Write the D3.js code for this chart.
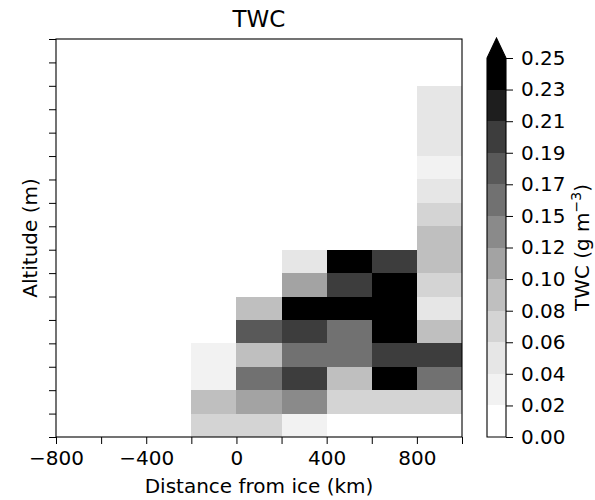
<!DOCTYPE html>
<html lang="en">
<head>
    <meta charset="UTF-8">
    <title>TWC</title>
    <script src="https://d3js.org/d3.v7.min.js"></script>
    <style>
        body { margin: 0; background: #fff; }
        text { font-family: "DejaVu Sans", sans-serif; fill: #000; }
    </style>
</head>
<body>
    <svg></svg>
    <script>
        const svgWidth = 595;
        const svgHeight = 500;

        // left edge of each 200 km distance bin
        const distBins = [-200, 0, 200, 400, 600, 800];
        // TWC per altitude bin (bottom row first), one array per distance bin
        const twcAtM200 = [0.07, 0.09, 0.03, 0.03];
        const twcAt0 = [0.07, 0.11, 0.155, 0.09, 0.18, 0.09];
        const twcAt200 = [0.03, 0.135, 0.20, 0.155, 0.20, 0.28, 0.11, 0.05];
        const twcAt400 = [0.01, 0.07, 0.09, 0.155, 0.155, 0.26, 0.20, 0.26];
        const twcAt600 = [0.01, 0.07, 0.26, 0.20, 0.27, 0.29, 0.27, 0.20];
        const twcAt800 = [0.01, 0.07, 0.155, 0.20, 0.09, 0.05, 0.07, 0.09, 0.09, 0.07, 0.05, 0.03, 0.05, 0.05, 0.05];
        const nAltRows = 17;

        const xTicks = [-800, -600, -400, -200, 0, 200, 400, 600, 800, 1000];
        const xTickLabels = ["\u2212800", "", "\u2212400", "", "0", "", "400", "", "800", ""];

        const levels = [0, 0.0208, 0.0417, 0.0625, 0.0833, 0.1042, 0.125, 0.1458, 0.1667, 0.1875, 0.2083, 0.2292, 0.25];
        const levelLabels = ["0.00", "0.02", "0.04", "0.06", "0.08", "0.10", "0.12", "0.15", "0.17", "0.19", "0.21", "0.23", "0.25"];
        const greys = ["#ffffff", "#f2f2f2", "#e6e6e6", "#d4d4d4", "#bfbfbf", "#a3a3a3", "#8a8a8a",
                       "#717171", "#595959", "#3d3d3d", "#1e1e1e", "#000000", "#000000"];

        const columns = [twcAtM200, twcAt0, twcAt200, twcAt400, twcAt600, twcAt800];
        const cells = [];
        columns.forEach((col, i) => {
            col.forEach((v, j) => cells.push({x0: distBins[i], row: j, value: v}));
        });

        const margin = {left: 56, right: 133, top: 39, bottom: 63};
        const plotW = svgWidth - margin.left - margin.right;
        const plotH = svgHeight - margin.top - margin.bottom;

        const svg = d3.select("svg")
            .attr("width", svgWidth)
            .attr("height", svgHeight);

        const x = d3.scaleLinear().domain([-800, 1000]).range([margin.left, margin.left + plotW]);
        const y = d3.scaleLinear().domain([0, nAltRows]).range([margin.top + plotH, margin.top]);
        const color = d3.scaleThreshold().domain(levels.slice(1)).range(greys);

        svg.append("g")
            .selectAll("rect")
            .data(cells)
            .enter()
            .append("rect")
            .attr("x", d => x(d.x0))
            .attr("y", d => y(d.row + 1))
            .attr("width", d => x(d.x0 + 200) - x(d.x0))
            .attr("height", d => y(d.row) - y(d.row + 1))
            .attr("fill", d => color(d.value))
            .attr("shape-rendering", "crispEdges");

        // frame
        svg.append("rect")
            .attr("x", margin.left)
            .attr("y", margin.top)
            .attr("width", plotW)
            .attr("height", plotH)
            .attr("fill", "none")
            .attr("stroke", "#000")
            .attr("stroke-width", 1.1);

        const xAxis = svg.append("g")
            .attr("transform", `translate(0,${margin.top + plotH})`)
            .call(d3.axisBottom(x).tickValues(xTicks).tickSize(7).tickPadding(7)
                .tickFormat((d, i) => xTickLabels[i]));
        xAxis.select(".domain").remove();
        xAxis.selectAll("text").style("font-size", "20px");

        const yAxis = svg.append("g")
            .attr("transform", `translate(${margin.left},0)`)
            .call(d3.axisLeft(y).tickValues(d3.range(nAltRows + 1)).tickSize(7).tickFormat(""));
        yAxis.select(".domain").remove();

        svg.append("text")
            .attr("x", margin.left + plotW / 2)
            .attr("y", 27)
            .attr("text-anchor", "middle")
            .style("font-size", "23px")
            .text("TWC");

        svg.append("text")
            .attr("x", margin.left + plotW / 2)
            .attr("y", 493)
            .attr("text-anchor", "middle")
            .style("font-size", "20px")
            .text("Distance from ice (km)");

        svg.append("text")
            .attr("transform", `translate(37,${margin.top + plotH / 2}) rotate(-90)`)
            .attr("text-anchor", "middle")
            .style("font-size", "20px")
            .text("Altitude (m)");

        // colorbar
        const cbX = 487, cbW = 19, cbTop = 58, cbBottom = 437, cbTip = 38;
        const cy = d3.scaleLinear().domain([0, 0.25]).range([cbBottom, cbTop]);
        const cb = svg.append("g");
        cb.selectAll("rect")
            .data(levels.slice(0, -1))
            .enter()
            .append("rect")
            .attr("x", cbX)
            .attr("y", (d, i) => cy(levels[i + 1]))
            .attr("width", cbW)
            .attr("height", (d, i) => cy(levels[i]) - cy(levels[i + 1]))
            .attr("fill", (d, i) => greys[i])
            .attr("shape-rendering", "crispEdges");
        cb.append("path")
            .attr("d", `M${cbX},${cbTop}L${cbX + cbW / 2},${cbTip}L${cbX + cbW},${cbTop}Z`)
            .attr("fill", greys[12]);
        cb.append("path")
            .attr("d", `M${cbX},${cbBottom}L${cbX},${cbTop}L${cbX + cbW / 2},${cbTip}L${cbX + cbW},${cbTop}L${cbX + cbW},${cbBottom}Z`)
            .attr("fill", "none")
            .attr("stroke", "#000")
            .attr("stroke-width", 1.1);

        const cAxis = svg.append("g")
            .attr("transform", `translate(${cbX + cbW},0)`)
            .call(d3.axisRight(cy).tickValues(levels).tickSize(7).tickPadding(8)
                .tickFormat((d, i) => levelLabels[i]));
        cAxis.select(".domain").remove();
        cAxis.selectAll("text").style("font-size", "20px");

        const cLabel = svg.append("text")
            .attr("transform", `translate(589,${(cbBottom + cbTop) / 2}) rotate(-90)`)
            .attr("text-anchor", "middle")
            .style("font-size", "20px");
        cLabel.append("tspan").text("TWC (g m");
        cLabel.append("tspan").attr("dy", -8).style("font-size", "14px").text("\u22123");
        cLabel.append("tspan").attr("dy", 8).text(")");
    </script>
</body>
</html>
